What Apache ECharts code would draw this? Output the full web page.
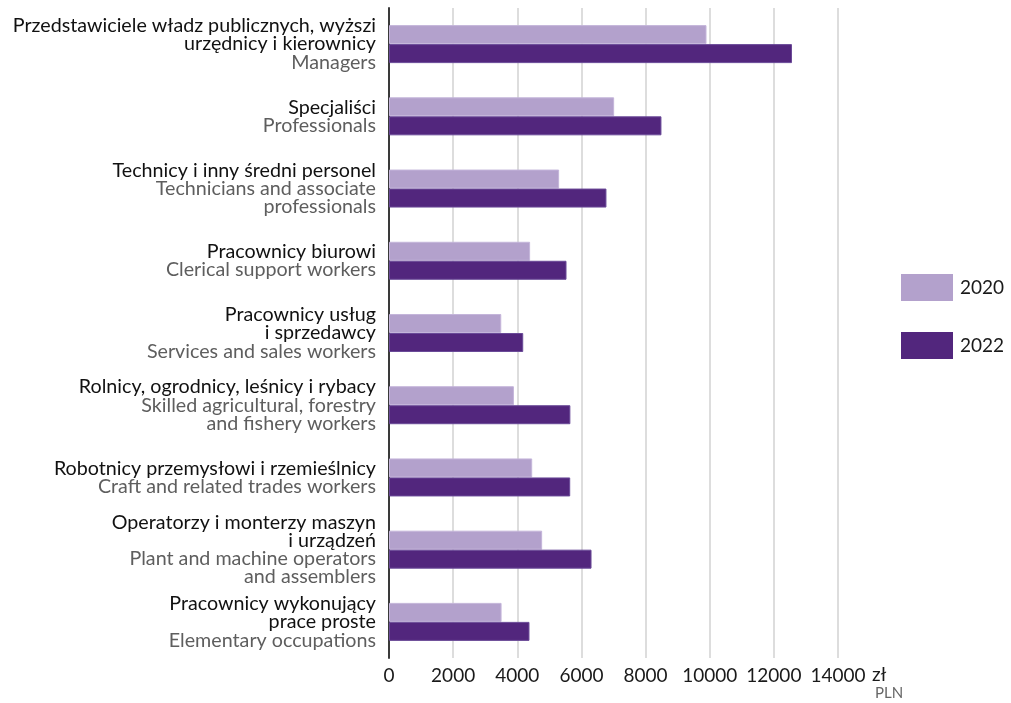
<!DOCTYPE html>
<html>
<head>
<meta charset="utf-8">
<script src="https://cdn.jsdelivr.net/npm/echarts@6/dist/echarts.min.js"></script>
<style>
html,body{margin:0;padding:0;background:#fff;}
#chart{width:1011px;height:703px;}
</style>
</head>
<body>
<div id="chart"></div>
<script>
// Category labels: Polish (black) and English (grey) lines
var categoriesPL = [
  'Przedstawiciele władz publicznych, wyższi\nurzędnicy i kierownicy',
  'Specjaliści',
  'Technicy i inny średni personel',
  'Pracownicy biurowi',
  'Pracownicy usług\ni sprzedawcy',
  'Rolnicy, ogrodnicy, leśnicy i rybacy',
  'Robotnicy przemysłowi i rzemieślnicy',
  'Operatorzy i monterzy maszyn\ni urządzeń',
  'Pracownicy wykonujący\nprace proste'
];
var categoriesEN = [
  'Managers',
  'Professionals',
  'Technicians and associate\nprofessionals',
  'Clerical support workers',
  'Services and sales workers',
  'Skilled agricultural, forestry\nand fishery workers',
  'Craft and related trades workers',
  'Plant and machine operators\nand assemblers',
  'Elementary occupations'
];
var seriesNames = ['2020', '2022'];
var values2020 = [9900, 7020, 5305, 4400, 3500, 3895, 4465, 4775, 3510];
var values2022 = [12565, 8495, 6780, 5535, 4185, 5655, 5650, 6315, 4380];
var xTicks = [0, 2000, 4000, 6000, 8000, 10000, 12000, 14000];

var categories = categoriesPL.map(function (p, i) { return p + '|' + categoriesEN[i]; });

var chart = echarts.init(document.getElementById('chart'));
var font = 'Lato';
chart.setOption({
  animation: false,
  textStyle: { fontFamily: font },
  grid: { left: 389, right: 173, top: 8, bottom: 45, containLabel: false },
  legend: {
    orient: 'vertical',
    left: 901,
    top: 274,
    padding: 0,
    itemWidth: 52,
    itemHeight: 27,
    itemGap: 31,
    icon: 'rect',
    itemStyle: { borderWidth: 0 },
    textStyle: { fontSize: 19, color: '#1a1a1a', fontFamily: font, padding: [0, 0, 0, 2] },
    data: seriesNames
  },
  xAxis: {
    type: 'value',
    min: xTicks[0],
    max: xTicks[xTicks.length - 1],
    interval: xTicks[1] - xTicks[0],
    axisLine: { show: false },
    axisTick: { show: false },
    axisLabel: {
      fontSize: 19, color: '#1a1a1a', margin: 8, fontFamily: font,
      formatter: function (v) { return String(v); }
    },
    splitLine: { show: true, lineStyle: { color: '#d2d2d2', width: 1.5 } },
    name: '{a|zł}\n{b|PLN}',
    nameLocation: 'end',
    nameGap: 34,
    nameTextStyle: {
      align: 'left',
      verticalAlign: 'top',
      padding: [7, 0, 0, 0],
      rich: {
        a: { fontSize: 19, color: '#1a1a1a', lineHeight: 20, fontFamily: font },
        b: { fontSize: 15, color: '#666666', lineHeight: 17, padding: [0, 0, 0, 3], fontFamily: font }
      }
    }
  },
  yAxis: {
    type: 'category',
    inverse: true,
    data: categories,
    axisLine: { show: true, lineStyle: { color: '#3a3a3a', width: 2 } },
    axisTick: { show: false },
    splitLine: { show: false },
    axisLabel: {
      margin: 13,
      align: 'right',
      formatter: function (v) {
        var parts = v.split('|');
        var pl = parts[0].split('\n').map(function (s) { return '{pl|' + s + '}'; });
        var en = parts[1].split('\n').map(function (s) { return '{en|' + s + '}'; });
        return pl.concat(en).join('\n');
      },
      rich: {
        pl: { fontSize: 19.7, lineHeight: 18.3, color: '#111111', fontFamily: font, align: 'right' },
        en: { fontSize: 19.7, lineHeight: 18.3, color: '#5e5e5e', fontFamily: font, align: 'right' }
      }
    }
  },
  series: [
    {
      name: seriesNames[0],
      type: 'bar',
      data: values2020,
      barWidth: 19,
      barGap: '0%',
      itemStyle: { color: '#b3a1cc', borderColor: '#c4b5da', borderWidth: 1 }
    },
    {
      name: seriesNames[1],
      type: 'bar',
      data: values2022,
      barWidth: 19,
      barGap: '0%',
      itemStyle: { color: '#52267d', borderColor: '#6a4a98', borderWidth: 1 }
    }
  ]
});
</script>
</body>
</html>
